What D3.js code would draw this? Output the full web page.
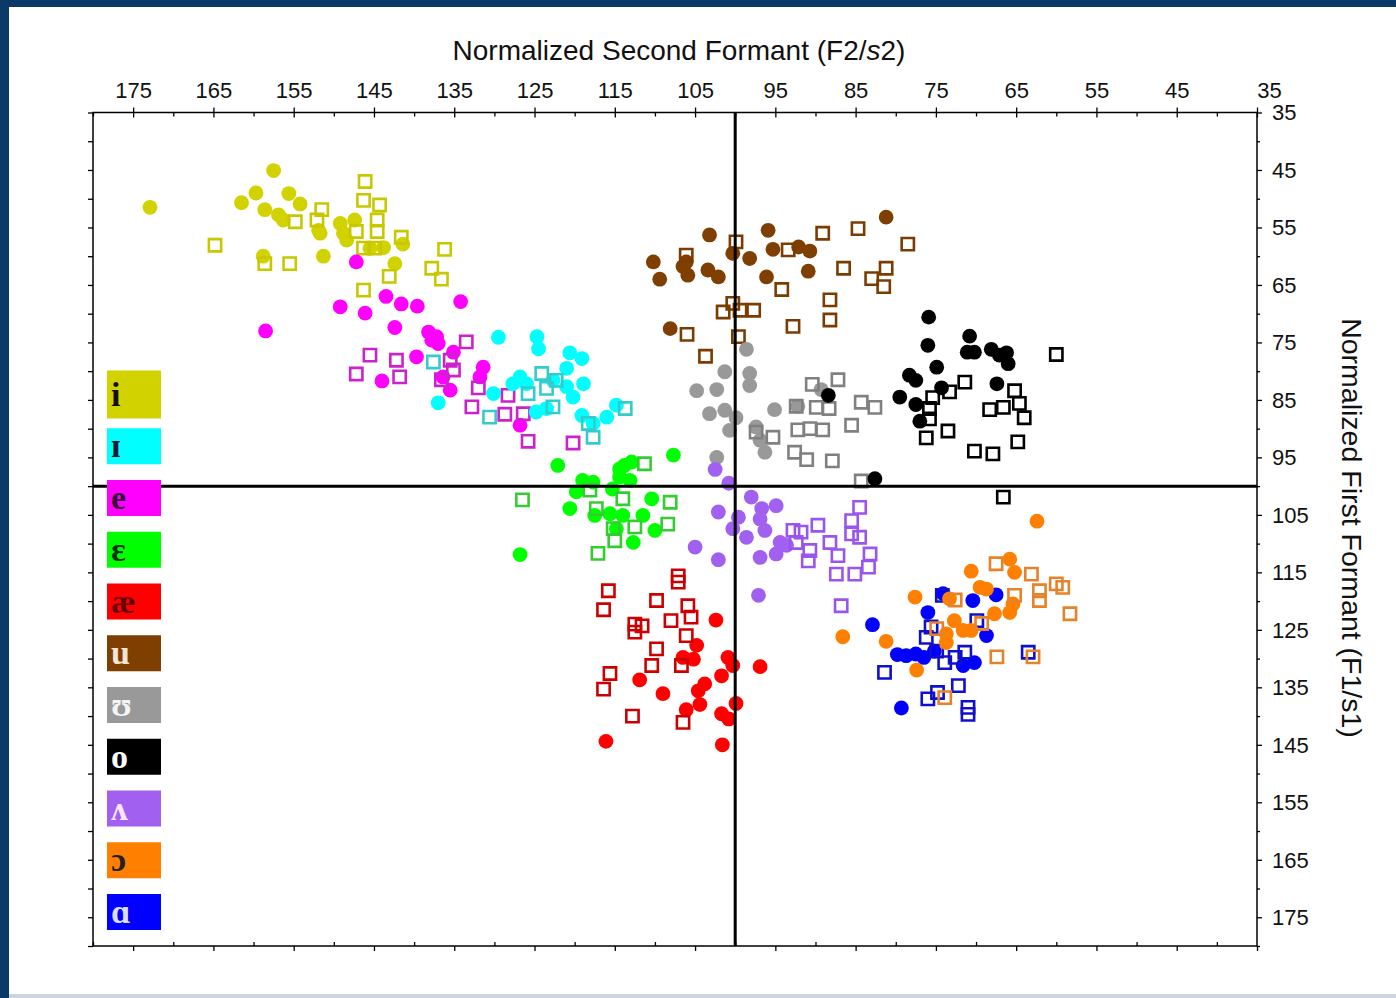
<!DOCTYPE html>
<html lang="en">
  <head>
    <meta charset="utf-8">
    <title>Vowel formant plot</title>
    <style>
      body { margin: 0; background: #fff; }
    </style>
  </head>
  <body>
    <div id="chart-area"></div>
    <script src="https://cdn.jsdelivr.net/npm/d3@7/dist/d3.min.js"></script>
    <script>
      // vowel order as in the legend
      const vowels = ['i', 'ɪ', 'e', 'ɛ', 'æ', 'u', 'ʊ', 'o', 'ʌ', 'ɔ', 'ɑ'];

      const x_major_ticks = [175, 165, 155, 145, 135, 125, 115, 105, 95, 85, 75, 65, 55, 45, 35];
      const y_major_ticks = [35, 45, 55, 65, 75, 85, 95, 105, 115, 125, 135, 145, 155, 165, 175];

      // [F2/s2, F1/s1] pairs, filled dots = one group, open boxes = the other
      const i_dots = [[172.9,51.5],[157.5,45.1],[161.5,50.7],[159.7,49.0],[158.6,51.9],[155.6,49.1],[154.2,50.9],[156.9,52.8],[156.3,53.7],[151.9,55.5],[151.7,56.0],[149.2,54.3],[148.8,56.0],[148.4,57.2],[147.4,53.7],[151.3,60.0],[158.8,60.0],[143.8,58.5],[141.4,57.9],[142.4,61.3],[145.5,58.6]];
      const i_boxes = [[146.1,47.0],[146.3,50.3],[144.3,51.1],[151.5,51.9],[152.1,53.7],[154.8,54.0],[144.6,53.7],[144.6,55.7],[147.2,55.7],[146.3,58.6],[144.9,58.6],[141.6,56.7],[164.8,58.1],[158.6,61.3],[155.5,61.3],[136.2,58.8],[137.8,62.1],[136.6,64.0],[143.1,63.5],[146.3,65.9]];

      const ih_dots = [[129.5,74.1],[124.7,74.0],[124.5,76.1],[120.6,76.8],[119.1,77.8],[121.0,79.5],[126.8,81.0],[127.7,82.2],[126.0,82.2],[122.7,81.6],[121.0,82.7],[118.9,82.2],[120.2,84.5],[130.1,83.9],[137.0,85.5],[124.8,87.1],[123.5,86.5],[119.1,87.7],[117.7,89.1],[116.0,88.0],[114.8,85.9]];
      const ih_boxes = [[137.6,78.4],[124.1,80.4],[125.8,83.9],[123.5,83.0],[122.7,86.2],[130.6,88.0],[118.3,89.1],[117.7,91.5],[113.7,86.5],[122.3,81.6]];

      const e_dots = [[147.2,61.0],[158.5,73.0],[149.2,68.8],[146.1,69.9],[143.5,67.0],[141.6,68.3],[139.6,68.7],[134.2,67.9],[142.4,72.4],[138.2,73.2],[137.2,74.0],[137.0,75.2],[139.7,77.5],[135.1,76.7],[135.5,83.3],[136.4,81.0],[144.0,81.7],[131.4,79.3],[131.8,81.0],[126.8,89.4],[137.8,74.6]];
      const e_boxes = [[145.5,77.2],[142.2,78.1],[147.2,80.5],[141.8,81.0],[133.5,74.9],[135.1,79.8],[136.6,81.5],[132.0,82.9],[128.3,84.2],[132.8,86.2],[128.7,87.5],[126.4,87.4],[125.8,92.2],[120.2,92.5],[135.5,78.1]];

      const eh_dots = [[107.7,94.6],[122.1,96.4],[114.4,97.0],[113.8,96.4],[112.9,95.8],[114.4,98.4],[113.1,99.0],[119.0,99.0],[117.7,99.3],[119.8,101.0],[115.3,100.5],[120.6,103.9],[110.4,102.2],[117.5,105.1],[115.6,104.8],[114.0,105.1],[111.5,105.1],[110.0,107.7],[112.7,109.8],[126.8,111.9],[114.8,107.4]];
      const eh_boxes = [[111.3,96.1],[126.5,102.4],[108.1,102.8],[114.0,102.2],[117.3,103.9],[108.4,106.6],[115.2,107.4],[112.5,107.1],[115.0,109.5],[117.1,111.7],[118.1,100.7]];

      const ae_dots = [[102.4,123.3],[104.8,127.7],[106.5,129.8],[105.2,130.1],[100.9,129.8],[100.3,131.2],[96.9,131.4],[111.9,133.7],[101.7,133.0],[103.8,134.4],[104.6,135.6],[109.0,136.1],[104.4,138.0],[106.1,138.9],[99.9,137.8],[101.7,139.6],[100.8,140.5],[116.1,144.4],[101.6,145.0]];
      const ae_boxes = [[107.1,115.6],[107.1,116.7],[115.8,118.2],[116.4,121.5],[109.8,119.9],[105.9,120.8],[105.5,122.8],[112.5,124.0],[111.6,124.3],[112.5,125.4],[108.0,123.4],[106.1,126.0],[109.8,128.3],[110.4,131.2],[106.7,131.2],[115.6,132.6],[116.4,135.3],[112.8,140.0],[106.5,141.1]];

      const u_dots = [[103.2,56.3],[95.9,55.5],[81.2,53.2],[110.2,61.0],[109.4,64.0],[106.5,61.8],[105.9,63.3],[106.1,61.0],[103.4,62.4],[102.1,63.6],[100.3,59.5],[98.2,60.4],[95.3,58.8],[92.1,58.4],[90.7,59.1],[96.1,63.6],[90.9,62.6],[108.1,72.6]];
      const u_boxes = [[99.9,57.5],[106.1,59.8],[93.4,58.9],[89.1,56.0],[84.7,55.2],[78.5,57.9],[86.5,62.1],[83.0,63.9],[81.2,62.1],[81.5,65.3],[94.2,65.8],[88.2,67.6],[88.2,71.1],[92.8,72.2],[101.5,69.7],[100.3,68.2],[99.4,69.4],[97.7,69.4],[106.0,73.6],[99.6,74.0],[103.7,77.4]];

      const uh_dots = [[98.6,76.2],[101.3,80.1],[98.2,80.4],[98.2,82.5],[104.8,83.4],[102.3,83.2],[103.2,87.4],[101.3,86.8],[99.9,88.1],[100.7,90.3],[97.4,89.7],[95.1,86.7],[96.3,94.1],[92.2,86.1],[89.3,83.2],[102.3,95.0],[96.9,92.0]];
      const uh_boxes = [[90.4,82.3],[87.2,81.5],[89.9,86.3],[88.3,86.5],[92.4,86.1],[84.3,85.4],[82.6,86.3],[85.5,89.4],[92.2,90.2],[90.7,90.0],[89.1,90.2],[97.4,90.6],[95.3,91.5],[92.6,94.1],[91.1,95.4],[87.9,95.6],[84.3,99.1]];

      const o_dots = [[88.4,84.2],[82.6,98.7],[75.9,70.6],[76.0,75.5],[70.8,73.9],[71.1,76.7],[70.2,76.7],[68.1,76.2],[67.1,77.2],[66.2,76.8],[66.0,78.7],[74.9,79.3],[78.3,80.7],[77.5,81.6],[74.3,82.9],[79.5,84.5],[77.5,85.8],[77.0,88.7],[67.4,82.2]];
      const o_boxes = [[60.0,77.1],[71.4,81.9],[73.3,83.6],[75.4,84.6],[75.8,86.5],[75.8,88.3],[76.2,91.6],[73.5,90.4],[65.2,83.4],[64.6,85.6],[68.3,86.7],[66.6,86.3],[64.0,88.1],[64.8,92.3],[70.2,93.9],[67.9,94.4],[66.6,101.9]];

      const ah_dots = [[102.5,97.1],[100.8,99.5],[98.0,101.9],[96.7,103.9],[94.9,103.4],[102.1,104.5],[99.6,105.4],[96.9,105.7],[100.3,107.4],[98.6,108.9],[96.3,107.7],[94.4,109.8],[94.9,111.8],[96.9,112.4],[105.0,110.6],[102.1,112.8],[97.1,119.0],[93.6,110.3]];
      const ah_boxes = [[84.5,103.7],[85.5,106.0],[92.8,107.7],[91.8,108.0],[89.7,106.8],[85.5,108.3],[84.5,108.9],[92.4,109.8],[88.2,109.8],[90.7,111.2],[87.2,112.1],[83.2,111.8],[90.9,113.0],[87.4,115.3],[85.1,115.3],[83.4,114.1],[86.8,120.8]];

      const oh_dots = [[77.6,119.3],[70.6,114.8],[65.8,112.7],[65.2,115.0],[69.5,117.6],[68.7,117.9],[65.4,120.5],[65.8,122.0],[67.7,122.2],[73.3,119.6],[72.7,123.4],[71.6,125.1],[73.7,125.7],[70.6,125.1],[73.7,127.2],[86.6,126.2],[81.2,127.0],[77.4,132.0],[62.4,106.1]];
      const oh_boxes = [[67.5,113.5],[63.1,115.3],[62.1,118.2],[62.1,119.9],[60.0,117.0],[59.2,117.6],[58.3,122.2],[65.2,119.0],[72.6,119.8],[74.9,124.8],[69.3,123.9],[67.4,129.7],[62.9,129.7],[73.9,136.8]];

      const a_dots = [[82.9,124.1],[76.0,122.0],[70.4,119.9],[67.5,118.9],[74.1,118.7],[79.8,129.3],[78.7,129.5],[77.5,129.2],[76.5,129.8],[75.2,128.7],[71.6,131.2],[70.2,130.7],[68.7,126.0],[79.3,138.6]];
      const a_boxes = [[81.4,132.4],[76.2,126.3],[74.9,128.7],[73.9,130.7],[72.6,129.8],[71.4,128.9],[69.9,123.4],[75.6,124.5],[63.5,128.9],[76.0,137.0],[74.8,135.9],[72.2,134.7],[71.0,138.5],[71.0,139.7],[74.2,119.0]];

      const all_dots = [i_dots, ih_dots, e_dots, eh_dots, ae_dots, u_dots, uh_dots, o_dots, ah_dots, oh_dots, a_dots];
      const all_boxes = [i_boxes, ih_boxes, e_boxes, eh_boxes, ae_boxes, u_boxes, uh_boxes, o_boxes, ah_boxes, oh_boxes, a_boxes];

      // styling
      const fill_colors = ['#d2d200', '#00ffff', '#ff00ff', '#00ff00', '#ff0000', '#7f3f00', '#999999', '#000000', '#a160f0', '#ff8000', '#0000ff'];
      const box_colors = ['#c8c800', '#33cccc', '#cc22cc', '#33cc33', '#cc0000', '#7a3c00', '#808080', '#000000', '#9955ee', '#e6822a', '#1010cc'];
      const legend_text_colors = ['#111111', '#1a1a33', '#330033', '#003300', '#660000', '#f4e6d6', '#f4f4f4', '#ffffff', '#ffe6ff', '#222222', '#dcdcff'];
      const draw_order = [0, 2, 1, 3, 4, 5, 6, 7, 8, 10, 9];

      const svg_width = 1396;
      const svg_height = 998;
      const frame = {left: 93, right: 1257, top: 112.5, bottom: 946};

      const svg = d3.select('#chart-area')
        .append('svg')
        .attr('width', svg_width)
        .attr('height', svg_height)
        .style('display', 'block');

      // page border
      svg.append('rect').attr('x', 0).attr('y', 0).attr('width', svg_width).attr('height', svg_height).attr('fill', '#fff');
      svg.append('rect').attr('x', 0).attr('y', 0).attr('width', 9).attr('height', svg_height).attr('fill', '#0b3a68');
      svg.append('rect').attr('x', 0).attr('y', 0).attr('width', svg_width).attr('height', 7).attr('fill', '#0b3a68');
      svg.append('rect').attr('x', 9).attr('y', 994).attr('width', svg_width).attr('height', 4).attr('fill', '#cdd6e0');

      const x_scale = d3.scaleLinear().domain([180, 35]).range([frame.left, frame.right]);
      const y_scale = d3.scaleLinear().domain([35, 180]).range([frame.top, frame.bottom]);

      const x_minor = d3.range(180, 35, -10);
      const y_minor = d3.range(40, 181, 10);
      const y_all = d3.range(35, 181, 5);
      const axis_font = '"Liberation Sans", Arial, sans-serif';

      // top axis
      const top_axis = svg.append('g')
        .attr('transform', `translate(0,${frame.top})`)
        .call(d3.axisTop(x_scale).tickValues(x_major_ticks).tickSize(5).tickSizeOuter(0).tickPadding(10));
      top_axis.selectAll('line').attr('y2', -5).attr('y1', 5);
      top_axis.selectAll('text').attr('dx', d => d === 35 ? 12 : 0);
      svg.append('g')
        .attr('transform', `translate(0,${frame.top})`)
        .call(d3.axisTop(x_scale).tickValues(x_minor).tickSize(-4).tickSizeOuter(0).tickFormat(''));

      // right axis
      const right_axis = svg.append('g')
        .attr('transform', `translate(${frame.right},0)`)
        .call(d3.axisRight(y_scale).tickValues(y_major_ticks).tickSize(5).tickSizeOuter(0).tickPadding(10));
      right_axis.selectAll('text').attr('dy', '0.34em');
      svg.append('g')
        .attr('transform', `translate(${frame.right},0)`)
        .call(d3.axisRight(y_scale).tickValues(y_minor).tickSize(3).tickSizeOuter(0).tickFormat(''));

      // left and bottom axes, ticks only
      svg.append('g')
        .attr('transform', `translate(${frame.left},0)`)
        .call(d3.axisLeft(y_scale).tickValues(y_all).tickSize(5).tickSizeOuter(0).tickFormat(''));
      svg.append('g')
        .attr('transform', `translate(0,${frame.bottom})`)
        .call(d3.axisBottom(x_scale).tickValues(x_major_ticks).tickSize(5).tickSizeOuter(0).tickFormat(''));
      svg.append('g')
        .attr('transform', `translate(0,${frame.bottom})`)
        .call(d3.axisBottom(x_scale).tickValues(x_minor).tickSize(-4).tickSizeOuter(0).tickFormat(''));

      svg.selectAll('.domain').remove();
      svg.selectAll('.tick line').attr('stroke', '#000').attr('stroke-width', 1.3);
      svg.selectAll('.tick text')
        .attr('font-family', axis_font)
        .attr('font-size', '22px')
        .attr('fill', '#111');

      svg.append('rect')
        .attr('x', frame.left).attr('y', frame.top)
        .attr('width', frame.right - frame.left).attr('height', frame.bottom - frame.top)
        .attr('fill', 'none').attr('stroke', '#000').attr('stroke-width', 1.5);

      // titles
      const title = svg.append('text')
        .attr('x', 679).attr('y', 60)
        .attr('text-anchor', 'middle')
        .attr('font-family', axis_font)
        .attr('font-size', '28px')
        .attr('fill', '#111');
      title.append('tspan').text('Normalized Second Formant (F2/');
      title.append('tspan').attr('font-style', 'italic').text('s');
      title.append('tspan').text('2)');

      svg.append('text')
        .attr('transform', 'translate(1342,528) rotate(90)')
        .attr('text-anchor', 'middle')
        .attr('font-family', axis_font)
        .attr('font-size', '28.5px')
        .attr('fill', '#111')
        .text('Normalized First Formant (F1/s1)');

      // markers
      const plot = svg.append('g');
      const square = d3.symbol().type(d3.symbolSquare).size(150);

      draw_order.forEach(k => {
        plot.append('g').selectAll('circle').data(all_dots[k]).enter()
          .append('circle')
          .attr('cx', d => x_scale(d[0]))
          .attr('cy', d => y_scale(d[1]))
          .attr('r', 7.4)
          .attr('fill', fill_colors[k]);
        plot.append('g').selectAll('path').data(all_boxes[k]).enter()
          .append('path')
          .attr('d', square)
          .attr('transform', d => `translate(${x_scale(d[0])},${y_scale(d[1])})`)
          .attr('fill', 'none')
          .attr('stroke', box_colors[k])
          .attr('stroke-width', 2.6);
      });

      // crosshair at (100, 100)
      svg.append('line')
        .attr('x1', x_scale(100)).attr('x2', x_scale(100))
        .attr('y1', frame.top).attr('y2', frame.bottom)
        .attr('stroke', '#000').attr('stroke-width', 3);
      svg.append('line')
        .attr('x1', frame.left).attr('x2', frame.right)
        .attr('y1', y_scale(100)).attr('y2', y_scale(100))
        .attr('stroke', '#000').attr('stroke-width', 3);

      // legend
      const legend = svg.append('g').selectAll('g').data(vowels).enter()
        .append('g')
        .attr('transform', (d, i) => `translate(107,${394.5 + i * 51.75})`);
      legend.append('rect')
        .attr('x', 0)
        .attr('y', (d, i) => i === 0 ? -24 : -18)
        .attr('width', 54)
        .attr('height', (d, i) => i === 0 ? 48 : 36)
        .attr('fill', (d, i) => fill_colors[i]);
      legend.append('text')
        .attr('x', 4)
        .attr('y', 11)
        .attr('font-family', '"Liberation Serif", "DejaVu Serif", serif')
        .attr('font-size', '34px')
        .attr('font-weight', 'bold')
        .attr('fill', (d, i) => legend_text_colors[i])
        .text(d => d);
    </script>
  </body>
</html>
